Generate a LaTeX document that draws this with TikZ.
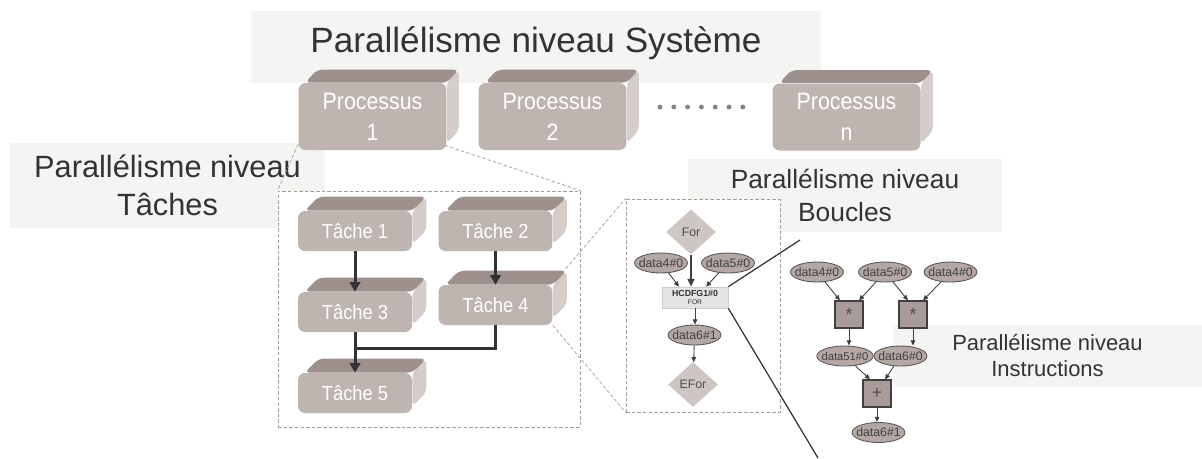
\documentclass[tikz,border=0pt]{standalone}
\usepackage{fontspec}
\setmainfont{Liberation Sans}
\newfontfamily\etroit[FakeStretch=0.9]{Liberation Sans}
\usetikzlibrary{shapes.geometric,arrows.meta,calc}

\definecolor{cfondlabel}{HTML}{F4F4F2}
\definecolor{ctexte}{HTML}{333333}
\definecolor{cface}{HTML}{BEB4B0}
\definecolor{cdessus}{HTML}{9E908C}
\definecolor{ccote}{HTML}{D4CDCA}
\definecolor{cpointille}{HTML}{A89C98}
\definecolor{cpoint}{HTML}{8C807C}
\definecolor{cdiamant}{HTML}{CEC6C3}
\definecolor{cdonnee}{HTML}{B5A8A4}
\definecolor{coperation}{HTML}{A99C98}
\definecolor{chcdfg}{HTML}{E6E4E2}

\pgfdeclarelayer{fond}
\pgfdeclarelayer{relief}
\pgfsetlayers{fond,relief,main}

\newcommand{\bloc}[3]{%
  \begin{pgfonlayer}{relief}
    \fill[ccote,rounded corners=3pt] (#1.north east) -- ([shift={(#2,#3)}]#1.north east) -- ([shift={(#2,#3-7)}]#1.south east) -- ([shift={(0,-7)}]#1.south east) -- cycle;
    \fill[cdessus,rounded corners=3pt] ([shift={(7,0)}]#1.north west) -- ([shift={(7+#2,#3)}]#1.north west) -- ([shift={(#2,#3)}]#1.north east) -- (#1.north east) -- cycle;
  \end{pgfonlayer}}

\tikzset{
  etiquette/.style={fill=cfondlabel, inner sep=0pt, text=ctexte, align=center},
  cadre/.style={draw=cpointille, dash pattern=on 2pt off 1.2pt, fill=white, inner sep=0pt, line width=0.5pt},
  lien/.style={draw=cpointille, dash pattern=on 2pt off 1.2pt, line width=0.4pt},
  processus/.style={fill=cface, rounded corners=4pt, minimum width=2.96cm, minimum height=1.34cm, inner sep=0pt, text=white, align=center, font=\etroit\fontsize{13.5}{17.6}\selectfont},
  tache/.style={fill=cface, rounded corners=4pt, minimum width=2.28cm, minimum height=0.8cm, inner sep=0pt, text=white, font=\etroit\fontsize{11.6}{13}\selectfont},
  fleche/.style={draw=ctexte, line width=1.7pt, -{Triangle[length=5.5pt,width=6pt]}},
  trait/.style={draw=ctexte, line width=1.7pt},
  data/.style={ellipse, draw=black!65, fill=cdonnee, line width=0.5pt, minimum width=1.04cm, minimum height=0.4cm, inner xsep=-2pt, inner ysep=0pt, text=black!75, font=\fontsize{7}{8}\selectfont},
  test/.style={diamond, fill=cdiamant, minimum width=1cm, minimum height=0.9cm, inner sep=0pt, text=black!70, font=\fontsize{7}{8}\selectfont},
  hcdfg/.style={rectangle, draw=black!20, fill=chcdfg, minimum width=1.32cm, minimum height=0.42cm, inner sep=0pt, align=center, text=black!80, font=\fontsize{5}{4.6}\selectfont},
  op/.style={rectangle, draw=black!75, fill=coperation, line width=0.6pt, minimum width=0.56cm, minimum height=0.54cm, inner sep=0pt, text=black!70, font=\fontsize{10}{11}\selectfont},
  arc/.style={draw=black!75, line width=0.5pt, -{Triangle[length=3pt,width=2.6pt]}},
  arcfort/.style={draw=black!75, line width=0.9pt, -{Triangle[length=4.5pt,width=4pt]}},
  loupe/.style={draw=black!80, line width=0.7pt}
}

\begin{document}
\begin{tikzpicture}[x=0.02cm,y=-0.02cm]
\useasboundingbox (0,0) rectangle (1202,458);

% etiquettes des niveaux
\begin{pgfonlayer}{fond}
  \node[etiquette, minimum width=11.4cm, text height=0.82cm, text depth=0.62cm, font=\fontsize{20}{24}\selectfont] (systeme) at (536,47) {Parallélisme niveau Système};
  \node[etiquette, minimum width=6.3cm, minimum height=1.7cm, font=\fontsize{17.5}{21.6}\selectfont] (taches) at (167.5,185.5) {Parallélisme niveau\\Tâches};
  \node[etiquette, minimum width=6.28cm, minimum height=1.46cm, font=\fontsize{15}{18.8}\selectfont] (boucles) at (845,195.5) {Parallélisme niveau\\Boucles};
  \node[etiquette, minimum width=6.18cm, minimum height=1.24cm, font=\fontsize{12.5}{14.8}\selectfont] (instructions) at (1047.5,356) {Parallélisme niveau\\Instructions};
  \node[cadre, minimum width=6.04cm, minimum height=4.72cm] (cadretaches) at (429,309) {};
  \node[cadre, minimum width=3.08cm, minimum height=4.26cm] (cadreboucle) at (703,305.5) {};
\end{pgfonlayer}

% processus
\node[processus] (p1) at (372.5,116.5) {Processus\\1};
\node[processus] (p2) at (552.5,116.5) {Processus\\2};
\node[processus] (pn) at (846.5,117) {Processus\\n};
\foreach \n in {p1,p2,pn} {\bloc{\n}{12}{-13}}
\foreach \i in {0,...,6} \fill[cpoint] (660+\i*13.8,107) circle[radius=1.4pt];

% taches
\node[tache] (t1) at (355,231) {Tâche 1};
\node[tache] (t2) at (495.5,231) {Tâche 2};
\node[tache] (t3) at (355,312) {Tâche 3};
\node[tache] (t4) at (495.5,305) {Tâche 4};
\node[tache] (t5) at (355,393) {Tâche 5};
\foreach \n in {t1,t2,t3,t4,t5} {\bloc{\n}{14}{-14}}
\coordinate (jonction) at (355,348);
\draw[fleche] (t1) -- (t3);
\draw[fleche] (t2) -- (t4);
\draw[trait] (t4.south) |- (jonction);
\draw[fleche] (t3) -- (t5);

\draw[lien] ([shift={(0,-6)}]p1.south west) -- (cadretaches.north west);
\draw[lien] ([shift={(-2,-5)}]p1.south east) -- (cadretaches.north east);
\draw[lien] ([shift={(13,-16)}]t4.north east) -- (cadreboucle.north west);
\draw[lien] (t4.south east) -- (cadreboucle.south west);

% boucle
\node[test] (for) at (691,232) {For};
\node[data] (d4) at (661,263) {data4\#0};
\node[data] (d5) at (728,263) {data5\#0};
\node[hcdfg] (hc) at (695,297.5) {\textbf{HCDFG1\#0}\\{\fontsize{3.8}{4}\selectfont FOR}};
\node[data] (d61) at (694.5,335) {data6\#1};
\node[test] (efor) at (693,384.5) {EFor};
\draw[arcfort] (for) -- (for |- hc.north);
\draw[arc] (d4) -- ([shift={(-16,0)}]hc.north);
\draw[arc] (d5) -- ([shift={(11,0)}]hc.north);
\draw[arc] (hc) -- (hc |- d61.north);
\draw[arc] (d61) -- (efor);

\coordinate (loupehaut) at (800,240);
\coordinate (loupebas) at (818,458);
\draw[loupe] (hc.north east) -- (loupehaut);
\draw[loupe] (hc.south east) -- (loupebas);

% instructions
\node[data] (a4) at (817,272) {data4\#0};
\node[data] (a5) at (885,272) {data5\#0};
\node[data] (b4) at (950.5,272) {data4\#0};
\node[op] (m1) at (849,314.5) {*};
\node[op] (m2) at (913,314.5) {*};
\node[data, font=\fontsize{6.4}{7}\selectfont] (d51) at (845,356) {data51\#0};
\node[data] (d60) at (900.5,356) {data6\#0};
\node[op] (pl) at (877,393.5) {+};
\node[data] (d6b) at (878.5,432.5) {data6\#1};
\draw[arc] (a4) -- ([shift={(-9,0)}]m1.north);
\draw[arc] (a5) -- ([shift={(10,0)}]m1.north);
\draw[arc] (a5) -- ([shift={(-5,0)}]m2.north);
\draw[arc] (b4) -- ([shift={(10,0)}]m2.north);
\draw[arc] (m1) -- (m1 |- d51.north);
\draw[arc] (m2) -- (m2 |- d60.north);
\draw[arc] (d51) -- ([shift={(-7,0)}]pl.north);
\draw[arc] (d60) -- ([shift={(8,0)}]pl.north);
\draw[arc] (pl) -- (pl |- d6b.north);
\end{tikzpicture}
\end{document}
